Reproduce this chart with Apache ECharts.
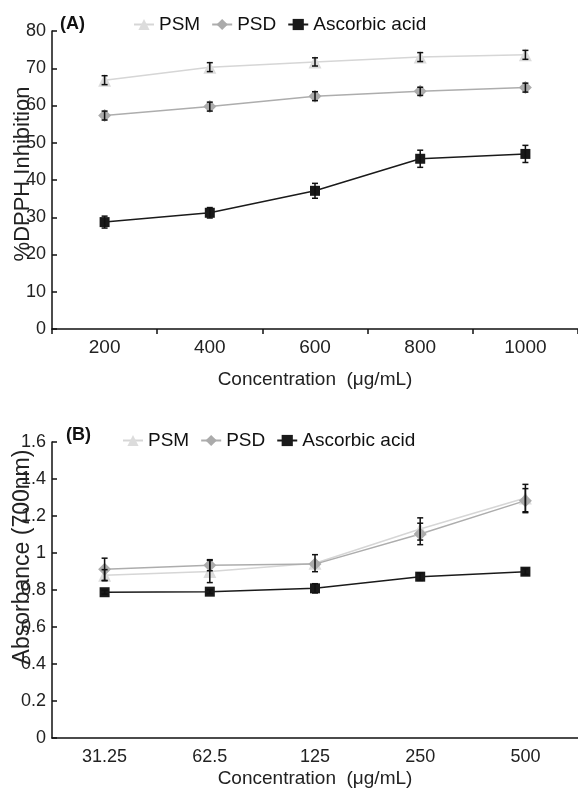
<!DOCTYPE html>
<html>
<head>
<meta charset="utf-8">
<script src="https://cdn.jsdelivr.net/npm/echarts@6/dist/echarts.min.js"></script>
<style>
  html, body { margin: 0; padding: 0; background: #fff; }
  #chart { width: 578px; height: 790px; }
</style>
</head>
<body>
<div id="chart"></div>
<script>
// panel A: DPPH
const catsA = ['200', '400', '600', '800', '1000']
const psmA = [66.8, 70.3, 71.7, 73.0, 73.6]
const psdA = [57.3, 59.7, 62.5, 63.8, 64.8]
const ascA = [28.7, 31.2, 37.1, 45.7, 47.0]
const psmErrA = [1.2, 1.2, 1.1, 1.2, 1.2]
const psdErrA = [1.2, 1.2, 1.2, 1.1, 1.2]
const ascErrA = [1.6, 1.4, 2.0, 2.3, 2.3]

// panel B: reducing power
const catsB = ['31.25', '62.5', '125', '250', '500']
const psmB = [0.88, 0.90, 0.945, 1.13, 1.297]
const psdB = [0.912, 0.934, 0.94, 1.103, 1.283]
const ascB = [0.788, 0.791, 0.809, 0.872, 0.899]
const psmErrB = [0.03, 0.06, 0.046, 0.06, 0.074]
const psdErrB = [0.06, 0.03, 0.0, 0.058, 0.065]
const ascErrB = [0.01, 0.01, 0.025, 0.02, 0.015]

const chart = echarts.init(document.getElementById('chart'))

const mainFont = "'Liberation Sans', Arial, sans-serif"

function errData(vals, errs) {
  return vals.map((v, i) => [i, v - errs[i], v + errs[i]])
}

function errSeries(xi, vals, errs) {
  return {
    type: 'custom',
    xAxisIndex: xi,
    yAxisIndex: xi,
    z: 5,
    silent: true,
    data: errData(vals, errs).filter(d => d[2] - d[1] > 0.0001),
    encode: { x: 0, y: [1, 2] },
    renderItem(params, api) {
      const lo = api.coord([api.value(0), api.value(1)])
      const hi = api.coord([api.value(0), api.value(2)])
      const w = 3
      const style = { stroke: '#111', lineWidth: 1.5 }
      return {
        type: 'group',
        children: [
          { type: 'line', shape: { x1: hi[0], y1: hi[1], x2: lo[0], y2: lo[1] }, style },
          { type: 'line', shape: { x1: hi[0] - w, y1: hi[1], x2: hi[0] + w, y2: hi[1] }, style },
          { type: 'line', shape: { x1: lo[0] - w, y1: lo[1], x2: lo[0] + w, y2: lo[1] }, style },
        ],
      }
    },
  }
}

function lineSeries(name, xi, data, color, lineColor, symbol, size) {
  return {
    name,
    type: 'line',
    xAxisIndex: xi,
    yAxisIndex: xi,
    data,
    symbol,
    symbolSize: size,
    lineStyle: { color: lineColor, width: 1.5 },
    itemStyle: { color },
    z: 3,
  }
}

const axisLine = { show: true, lineStyle: { color: '#111', width: 1.5 } }
const yTick = { show: true, inside: true, length: 5, lineStyle: { color: '#111', width: 1.5 } }

chart.setOption({
  animation: false,
  textStyle: { fontFamily: mainFont },
  title: [
    { text: '(A)', left: 55, top: 10, textStyle: { fontSize: 18, fontWeight: 'bold', color: '#111' } },
    { text: '(B)', left: 61, top: 421, textStyle: { fontSize: 18, fontWeight: 'bold', color: '#111' } },
  ],
  legend: [
    {
      left: 128, top: 10, itemWidth: 20, itemHeight: 14, itemGap: 11,
      textStyle: { fontSize: 19, color: '#111', fontFamily: mainFont },
      data: ['PSM', 'PSD', 'Ascorbic acid'],
    },
    {
      left: 117, top: 426, itemWidth: 20, itemHeight: 14, itemGap: 11,
      textStyle: { fontSize: 19, color: '#111', fontFamily: mainFont },
      data: ['PSM', 'PSD', 'Ascorbic acid'],
    },
  ],
  grid: [
    { left: 52, width: 526, top: 31, height: 298, outerBoundsMode: 'none', containLabel: false },
    { left: 52, width: 526, top: 442, height: 296, outerBoundsMode: 'none', containLabel: false },
  ],
  xAxis: [
    {
      gridIndex: 0, type: 'category', data: catsA, boundaryGap: true,
      axisLine, axisTick: { show: true, inside: false, length: 5, lineStyle: { color: '#111', width: 1.5 } },
      axisLabel: { fontSize: 19, color: '#222', margin: 9 },
      name: 'Concentration  (μg/mL)', nameLocation: 'middle', nameGap: 41,
      nameTextStyle: { fontSize: 19, color: '#222' },
    },
    {
      gridIndex: 1, type: 'category', data: catsB, boundaryGap: true,
      axisLine, axisTick: { show: false },
      axisLabel: { fontSize: 18, color: '#222', margin: 10 },
      name: 'Concentration  (μg/mL)', nameLocation: 'middle', nameGap: 31,
      nameTextStyle: { fontSize: 19, color: '#222' },
    },
  ],
  yAxis: [
    {
      gridIndex: 0, type: 'value', min: 0, max: 80, interval: 10,
      axisLine, axisTick: yTick,
      splitLine: { show: false },
      axisLabel: { fontSize: 18, color: '#222', margin: 6 },
      name: '%DPPH Inhibition', nameLocation: 'middle', nameGap: 18, nameMoveOverlap: false,
      nameTextStyle: { fontSize: 22, color: '#222', padding: [0, 0, 0, 12] },
    },
    {
      gridIndex: 1, type: 'value', min: 0, max: 1.6, interval: 0.2,
      axisLine, axisTick: yTick,
      splitLine: { show: false },
      axisLabel: { fontSize: 18, color: '#222', margin: 6 },
      name: 'Absorbance (700nm)', nameLocation: 'middle', nameGap: 18, nameMoveOverlap: false,
      nameTextStyle: { fontSize: 23, color: '#222', padding: [0, 0, 0, 66] },
    },
  ],
  series: [
    lineSeries('PSM', 0, psmA, '#dcdcdc', '#d6d6d6', 'triangle', 13),
    lineSeries('PSD', 0, psdA, '#ababab', '#adadad', 'diamond', 13),
    lineSeries('Ascorbic acid', 0, ascA, '#1a1a1a', '#1a1a1a', 'rect', 10),
    errSeries(0, psmA, psmErrA),
    errSeries(0, psdA, psdErrA),
    errSeries(0, ascA, ascErrA),
    lineSeries('PSM', 1, psmB, '#dcdcdc', '#d6d6d6', 'triangle', 13),
    lineSeries('PSD', 1, psdB, '#ababab', '#adadad', 'diamond', 13),
    lineSeries('Ascorbic acid', 1, ascB, '#1a1a1a', '#1a1a1a', 'rect', 10),
    errSeries(1, psmB, psmErrB),
    errSeries(1, psdB, psdErrB),
    errSeries(1, ascB, ascErrB),
  ],
})

window.addEventListener('resize', () => chart.resize())
</script>
</body>
</html>
